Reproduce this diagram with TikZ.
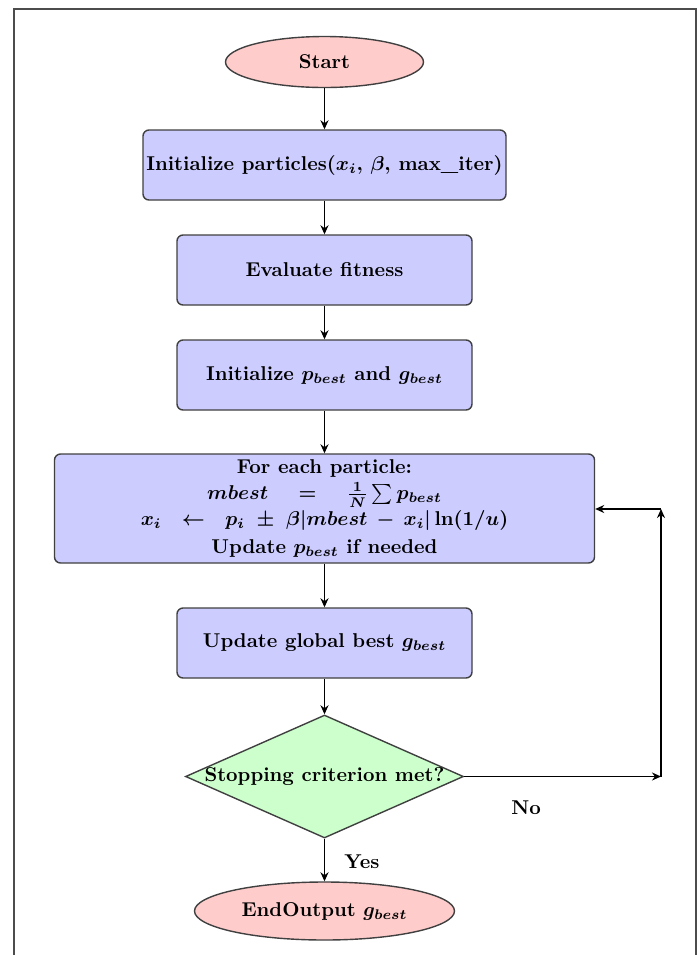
\documentclass[tikz,border=0pt]{standalone}
\usetikzlibrary{shapes.geometric,arrows.meta}
\begin{document}
\begin{tikzpicture}[x=0.5pt,y=-0.5pt, font=\bfseries\boldmath,
  startstop/.style={ellipse, draw=black!75, fill=red!20, line width=0.7pt, inner sep=0pt},
  procbox/.style={rectangle, rounded corners=3pt, draw=black!75, fill=blue!20, line width=0.7pt, align=center, inner sep=0pt},
  decision/.style={diamond, draw=black!75, fill=green!20, line width=0.7pt, inner sep=0pt},
  arr/.style={-{Stealth[length=4.5pt,width=4pt]}, line width=0.8pt},
  lbl/.style={inner sep=0pt}]
\useasboundingbox (0,0) rectangle (700,955);
\draw[black!70, line width=1pt] (14,955) -- (14,9) -- (696,9) -- (696,955);

\node[startstop, minimum width=99pt, minimum height=25.5pt] (start) at (324.5,62) {Start};
\node[procbox, minimum width=181.5pt, minimum height=35pt] (init) at (324.5,165) {Initialize particles($x_i$, $\beta$, max\_iter)};
\node[procbox, minimum width=147.5pt, minimum height=35pt] (eval) at (324.5,270) {Evaluate fitness};
\node[procbox, minimum width=147.5pt, minimum height=35pt] (ipb) at (324.5,375) {Initialize $p_{best}$ and $g_{best}$};
\node[procbox, minimum width=270pt, minimum height=54.5pt] (loop) at (324.5,508.5) {For each particle:\\[1pt]
  $mbest\hspace{12pt}=\hspace{12pt}\frac{1}{N}\sum p_{best}$\\[1pt]
  $x_i\hspace{7pt}\leftarrow\hspace{7pt}p_i\hspace{3.3pt}\pm\hspace{3.3pt}\beta|mbest\hspace{2pt}-\hspace{2pt}x_i|\ln(1/u)$\\[2pt]
  Update $p_{best}$ if needed};
\node[procbox, minimum width=147.5pt, minimum height=35pt] (ugb) at (324.5,643) {Update global best $g_{best}$};
\node[decision, minimum width=139pt, minimum height=61.5pt] (dec) at (324.5,776.5) {\makebox[0pt]{Stopping criterion met?}};
\node[startstop, minimum width=130pt, minimum height=29pt] (end) at (324.5,911) {EndOutput $g_{best}$};

\coordinate (c1) at (661,776.5);
\coordinate (c2) at (661,509);

\draw[arr] (start.south) -- (init.north);
\draw[arr] (init.south) -- (eval.north);
\draw[arr] (eval.south) -- (ipb.north);
\draw[arr] (ipb.south) -- (loop.north);
\draw[arr] (loop.south) -- (ugb.north);
\draw[arr] (ugb.south) -- (dec.north);
\draw[arr] (dec.south) -- (end.north);
\draw[arr] (dec.east) -- (c1);
\draw[arr] (c1) -- (c2);
\draw[arr] (c2) -- (c2 -| loop.east);

\node[lbl] (no) at (526,808) {No};
\node[lbl] (yes) at (362,862) {Yes};
\end{tikzpicture}
\end{document}
